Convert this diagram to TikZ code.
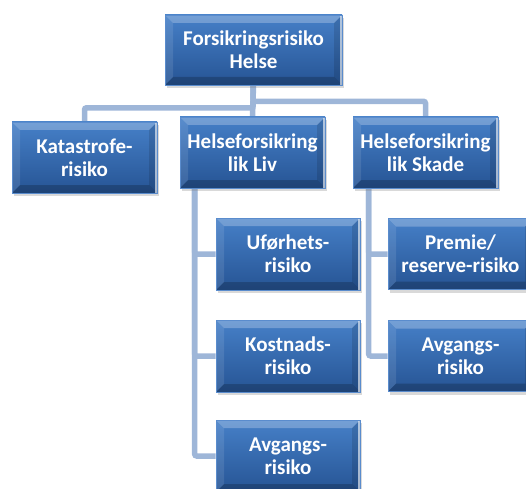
\documentclass[tikz,border=0pt]{standalone}
\usepackage{fontspec}
\setmainfont{Carlito}
\usetikzlibrary{backgrounds, shadows}

\definecolor{boxtop}{RGB}{70,128,200}
\definecolor{boxbottom}{RGB}{38,84,148}
\definecolor{boxedge}{RGB}{90,140,205}
\definecolor{linkblue}{RGB}{158,182,216}

\begin{document}
\begin{tikzpicture}[
x=1pt, y=1pt,
box/.style={rectangle, top color=boxtop, bottom color=boxbottom, draw=boxedge, line width=0.6pt,
  text=white, font=\fontsize{21}{23}\selectfont\bfseries, align=center,
  minimum width=145pt, minimum height=71pt, inner sep=1pt,
  drop shadow={opacity=0.3, shadow xshift=2pt, shadow yshift=-3pt},
  path picture={
    \fill[white, fill opacity=0.25] (path picture bounding box.north west) -- (path picture bounding box.north east)
      -- ([shift={(-8pt,-8pt)}]path picture bounding box.north east) -- ([shift={(8pt,-8pt)}]path picture bounding box.north west) -- cycle;
    \fill[white, fill opacity=0.10] (path picture bounding box.north west) -- (path picture bounding box.south west)
      -- ([shift={(8pt,8pt)}]path picture bounding box.south west) -- ([shift={(8pt,-8pt)}]path picture bounding box.north west) -- cycle;
    \fill[black, fill opacity=0.2] (path picture bounding box.south west) -- (path picture bounding box.south east)
      -- ([shift={(-8pt,8pt)}]path picture bounding box.south east) -- ([shift={(8pt,8pt)}]path picture bounding box.south west) -- cycle;
    \fill[black, fill opacity=0.12] (path picture bounding box.north east) -- (path picture bounding box.south east)
      -- ([shift={(-8pt,8pt)}]path picture bounding box.south east) -- ([shift={(-8pt,-8pt)}]path picture bounding box.north east) -- cycle;
    \fill[white, fill opacity=0.6] ([xshift=-2.5pt]path picture bounding box.north east) rectangle (path picture bounding box.south east);
  }},
link/.style={draw=linkblue, line width=5.5pt, rounded corners=2pt}
]
\useasboundingbox (0,0) rectangle (526,488);

% top level
\node[box, minimum width=177pt, minimum height=70pt] (helse) at (253.5,438) {Forsikringsrisiko\\Helse};

% second level
\node[box] (katastrofe) at (84.5,330.5) {Katastrofe-\\risiko};
\node[box] (liv) at (252.5,335.5) {Helseforsikring\\lik Liv};
\node[box] (skade) at (425.5,335.5) {Helseforsikring\\lik Skade};

% under Liv
\node[box, minimum width=144pt, minimum height=72pt] (ufor) at (288,234) {Uførhets-\\risiko};
\node[box, minimum width=144pt, minimum height=72pt] (kostnad) at (288,132) {Kostnads-\\risiko};
\node[box, minimum width=144pt, minimum height=72pt] (avgangliv) at (288,32) {Avgangs-\\risiko};

% under Skade
\node[box] (premie) at (460.5,234) {Premie/\\reserve-risiko};
\node[box] (avgangskade) at (460.5,132) {Avgangs-\\risiko};

\begin{scope}[on background layer]
\draw[link] (helse.south) -- (liv.north);
\draw[link] ([xshift=-0.5pt]helse.south) |- ++(0,-22.5) -| (katastrofe.north);
\draw[link] ([xshift=-0.5pt]helse.south) |- ++(0,-16) -| (skade.north);

\draw[link] ([xshift=15pt]liv.south west) |- (ufor.west);
\draw[link] ([xshift=15pt]liv.south west) |- (kostnad.west);
\draw[link] ([xshift=15pt]liv.south west) |- (avgangliv.west);

\draw[link] ([xshift=16pt]skade.south west) |- (premie.west);
\draw[link] ([xshift=16pt]skade.south west) |- (avgangskade.west);
\end{scope}
\end{tikzpicture}
\end{document}
